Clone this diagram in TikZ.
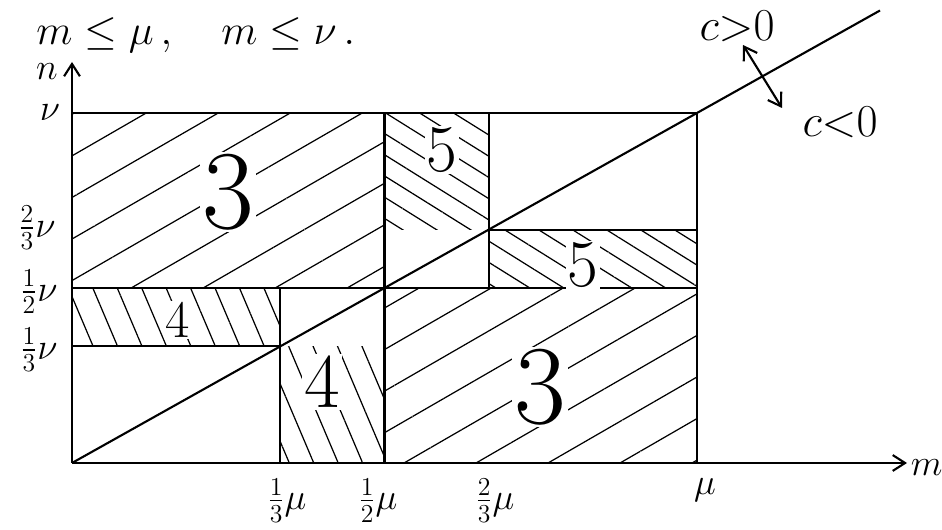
\documentclass[tikz,border=0pt]{standalone}
\usepackage{fix-cm}
\usepackage{amsmath}
\usepackage{amssymb}
\usetikzlibrary{patterns.meta,arrows.meta}

\begin{document}
\begin{tikzpicture}[line width=1.2pt,>={Straight Barb[length=7pt,width=9pt]},
  hatchA/.style={pattern={Lines[angle=30,distance=0.72cm,line width=0.7pt]}},
  hatchB/.style={pattern={Lines[angle=-67,distance=0.45cm,line width=0.7pt]}},
  hatchC/.style={pattern={Lines[angle=-32,distance=0.36cm,line width=0.7pt]}},
  lab/.style={font=\fontsize{21}{23}\selectfont},
  region/.style={fill=white,inner sep=1pt}]
\useasboundingbox (-1.44,-1.34) rectangle (17.4,9.26);
% hatched regions
\fill[hatchA] (0,3.5) rectangle (6.25,7);
\fill[hatchA] (6.25,0) rectangle (12.5,3.5);
\fill[hatchB] (0,2.333) rectangle (4.167,3.5);
\fill[hatchB] (4.167,0) rectangle (6.25,2.333);
\fill[hatchC] (6.25,4.667) rectangle (8.333,7);
\fill[hatchC] (8.333,3.5) rectangle (12.5,4.667);
% axes
\coordinate (O) at (0,0);
\coordinate (mend) at (16.7,0);
\coordinate (nend) at (0,8.02);
\draw[->] (O) -- (mend);
\draw[->] (O) -- (nend);
\node[lab] at (-0.5,7.82) {$n$};
\node[lab,right,inner sep=1pt] at (16.72,-0.1) {$m$};
% grid lines
\draw (0,7) -- (12.5,7) -- (12.5,0);
\draw (0,3.5) -- (12.5,3.5);
\draw (0,2.333) -- (4.167,2.333);
\draw (8.333,4.667) -- (12.5,4.667);
\draw (6.25,0) -- (6.25,7);
\draw (4.167,0) -- (4.167,3.5);
\draw (8.333,3.5) -- (8.333,7);
% line c=0
\draw (O) -- (16.16,9.05);
\draw[<->] (13.42,8.36) -- (14.2,7.1);
\node[font=\fontsize{26}{28}\selectfont] at (13.3,8.74) {$c{>}0$};
\node[font=\fontsize{26}{28}\selectfont] at (15.36,6.82) {$c{<}0$};
%
\node[font=\fontsize{24}{26}\selectfont,right] at (-0.85,8.55) {$m\le\mu\,,\quad m\le\nu\,.$};
%
\node[lab] at (-0.44,7) {$\nu$};
\node[lab] at (-0.7,4.7) {$\frac{2}{3}\nu$};
\node[lab] at (-0.66,3.42) {$\frac{1}{2}\nu$};
\node[lab] at (-0.66,2.26) {$\frac{1}{3}\nu$};
\node[lab] at (4.3,-0.75) {$\frac{1}{3}\mu$};
\node[lab] at (6.12,-0.75) {$\frac{1}{2}\mu$};
\node[lab] at (8.46,-0.75) {$\frac{2}{3}\mu$};
\node[lab] at (12.66,-0.54) {$\mu$};
%
\node[region,font=\fontsize{64}{66}\selectfont] at (3.12,5.42) {3};
\node[region,font=\fontsize{64}{66}\selectfont] at (9.36,1.52) {3};
\node[region,font=\fontsize{30}{32}\selectfont] at (2.12,2.86) {4};
\node[region,font=\fontsize{44}{46}\selectfont] at (5.0,1.62) {4};
\node[region,font=\fontsize{38}{40}\selectfont] at (7.4,6.26) {5};
\node[region,font=\fontsize{38}{40}\selectfont] at (10.22,3.96) {5};
\end{tikzpicture}
\end{document}
